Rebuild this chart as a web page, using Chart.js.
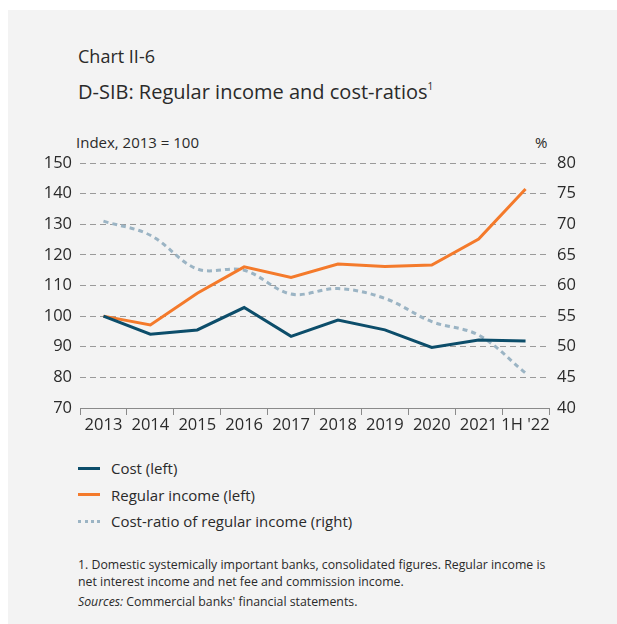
<!DOCTYPE html>
<html>
<head>
<meta charset="utf-8">
<script src="https://cdn.jsdelivr.net/npm/chart.js@4/dist/chart.umd.min.js"></script>
<style>
  html, body { margin: 0; padding: 0; background: #ffffff; }
  body { width: 617px; height: 624px; position: relative; overflow: hidden; font-family: "Open Sans", sans-serif; color: #2a2a2a; }
  #panel { position: absolute; left: 8px; top: 10px; right: 0; bottom: 0; background: #f3f3f3; }
  .abs { position: absolute; white-space: nowrap; }
  #kicker { left: 78px; top: 44px; font-size: 18px; }
  #title { left: 78px; top: 78px; font-size: 20px; }
  #title sup { font-size: 10px; vertical-align: 9px; line-height: 0; }
  #unitL { left: 76px; top: 132px; font-size: 15px; }
  #unitR { left: 535px; top: 132px; font-size: 15px; }
  #wrap { position: absolute; left: 0; top: 130px; width: 617px; height: 310px; }
  #legend { left: 78px; top: 455px; font-size: 15px; }
  .item { display: flex; align-items: center; height: 26.5px; }
  .sym { width: 22px; height: 0; margin-right: 11px; }
  #notes { left: 78px; top: 557px; font-size: 12.3px; line-height: 16.5px; }
  #notes .src { margin-top: 4px; }
</style>
</head>
<body>
<div id="panel"></div>
<div class="abs" id="kicker">Chart II-6</div>
<div class="abs" id="title">D-SIB: Regular income and cost-ratios<sup>1</sup></div>
<div class="abs" id="unitL">Index, 2013 = 100</div>
<div class="abs" id="unitR">%</div>
<div id="wrap"><canvas id="c" width="617" height="310"></canvas></div>
<div class="abs" id="legend"></div>
<div class="abs" id="notes">
  <div>1. Domestic systemically important banks, consolidated figures. Regular income is</div>
  <div>net interest income and net fee and commission income.</div>
  <div class="src"><i>Sources:</i> Commercial banks' financial statements.</div>
</div>
<script>
// Periods on the category axis
const periods = ['2013', '2014', '2015', '2016', '2017', '2018', '2019', '2020', '2021', "1H '22"];
// Index, 2013 = 100 (left axis)
const cost = [100, 94.1, 95.5, 102.8, 93.4, 98.7, 95.5, 89.8, 92.2, 91.9];
const regularIncome = [100, 97.1, 107.5, 116.1, 112.6, 117.0, 116.2, 116.7, 125.2, 141.5];
// Cost-ratio of regular income, % (right axis)
const costRatio = [70.5, 68.2, 62.7, 62.5, 58.6, 59.5, 57.9, 54.1, 51.9, 45.7];
// Axis ticks
const leftTicks = [70, 80, 90, 100, 110, 120, 130, 140, 150];
const rightTicks = [40, 45, 50, 55, 60, 65, 70, 75, 80];

const seriesNames = ['Cost (left)', 'Regular income (left)', 'Cost-ratio of regular income (right)'];
const colors = { cost: '#0c4d6a', income: '#f47a2b', ratio: '#9bb4c4' };

const tickFont = { family: 'Open Sans', size: 16.5 };
const textColor = '#2a2a2a';

new Chart(document.getElementById('c'), {
  type: 'line',
  data: {
    labels: periods,
    datasets: [
      { label: seriesNames[0], data: cost, yAxisID: 'yL', borderColor: colors.cost, borderWidth: 3, tension: 0, pointRadius: 0, order: 1 },
      { label: seriesNames[1], data: regularIncome, yAxisID: 'yL', borderColor: colors.income, borderWidth: 3, tension: 0, pointRadius: 0, order: 2 },
      { label: seriesNames[2], data: costRatio, yAxisID: 'yR', borderColor: colors.ratio, borderWidth: 3, borderDash: [5, 4], tension: 0.35, pointRadius: 0, order: 3 }
    ]
  },
  options: {
    responsive: false,
    animation: false,
    layout: { padding: { top: 33, left: 0, right: 0, bottom: 0 } },
    plugins: { legend: { display: false }, tooltip: { enabled: false } },
    scales: {
      x: {
        offset: true,
        grid: { offset: true, drawOnChartArea: false, drawTicks: true, tickLength: 7, color: '#8a8a8a' },
        border: { display: true, color: '#8a8a8a', width: 1 },
        ticks: { font: tickFont, color: textColor, padding: 0, maxRotation: 0, autoSkip: false },
        afterFit: (s) => { s.height = 32; }
      },
      yL: {
        position: 'left',
        min: 70, max: 150,
        afterBuildTicks: (s) => { s.ticks = leftTicks.map(v => ({ value: v })); },
        grid: { color: '#9a9a9a', lineWidth: 1, drawTicks: false },
        border: { display: false, dash: [6, 4] },
        ticks: { font: tickFont, color: textColor, padding: 8 },
        afterFit: (s) => { s.width = 80; }
      },
      yR: {
        position: 'right',
        min: 40, max: 80,
        afterBuildTicks: (s) => { s.ticks = rightTicks.map(v => ({ value: v })); },
        grid: { display: false, drawTicks: false },
        border: { display: false },
        ticks: { font: tickFont, color: textColor, padding: 8 },
        afterFit: (s) => { s.width = 68; }
      }
    }
  }
});

// Legend entries
const legend = document.getElementById('legend');
const legendStyles = [
  'border-top: 3px solid ' + colors.cost,
  'border-top: 3px solid ' + colors.income,
  'border-top: 3px dotted ' + colors.ratio
];
seriesNames.forEach((name, i) => {
  const row = document.createElement('div');
  row.className = 'item';
  const sym = document.createElement('span');
  sym.className = 'sym';
  sym.style.cssText = legendStyles[i];
  const txt = document.createElement('span');
  txt.textContent = name;
  row.appendChild(sym);
  row.appendChild(txt);
  legend.appendChild(row);
});
</script>
</body>
</html>
